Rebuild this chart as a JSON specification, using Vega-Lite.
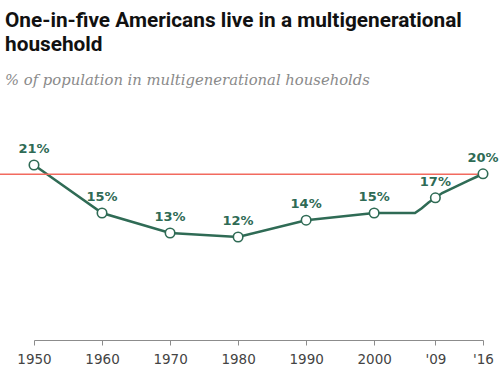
{
  "$schema": "https://vega.github.io/schema/vega-lite/v6.json",
  "width": 449,
  "height": 200,
  "autosize": {"type": "none"},
  "padding": {"left": 34, "right": 21, "top": 133, "bottom": 46},
  "background": "white",
  "config": {"view": {"stroke": null}},
  "title": {
    "text": ["One-in-five Americans live in a multigenerational", "household"],
    "subtitle": "% of population in multigenerational households",
    "anchor": "start",
    "frame": "group",
    "dx": -29,
    "offset": 44,
    "font": "Roboto",
    "fontSize": 20.8,
    "fontWeight": "bold",
    "lineHeight": 24,
    "color": "#111111",
    "subtitleFont": "DejaVu Serif",
    "subtitleFontStyle": "italic",
    "subtitleFontSize": 14.8,
    "subtitleColor": "#8a8a8a",
    "subtitlePadding": 17
  },
  "datasets": {
    "series": [
      {"year": 1950, "pct": 21.0, "label": "21%"},
      {"year": 1960, "pct": 15.0, "label": "15%"},
      {"year": 1970, "pct": 12.5, "label": "13%"},
      {"year": 1980, "pct": 12.0, "label": "12%"},
      {"year": 1990, "pct": 14.1, "label": "14%"},
      {"year": 2000, "pct": 15.0, "label": "15%"},
      {"year": 2006, "pct": 15.0, "label": ""},
      {"year": 2007, "pct": 15.6, "label": ""},
      {"year": 2008, "pct": 16.3, "label": ""},
      {"year": 2009, "pct": 16.9, "label": "17%"},
      {"year": 2010, "pct": 17.5, "label": ""},
      {"year": 2011, "pct": 17.9, "label": ""},
      {"year": 2012, "pct": 18.3, "label": ""},
      {"year": 2013, "pct": 18.7, "label": ""},
      {"year": 2014, "pct": 19.1, "label": ""},
      {"year": 2015, "pct": 19.5, "label": ""},
      {"year": 2016, "pct": 19.9, "label": "20%"}
    ],
    "refline": [
      {"start": 1945, "end": 2016, "pct": 19.85}
    ]
  },
  "layer": [
    {
      "data": {"name": "series"},
      "mark": {"type": "line", "color": "#2f6b55", "strokeWidth": 2.5, "interpolate": "linear"},
      "encoding": {
        "x": {
          "field": "year", "type": "quantitative",
          "scale": {"domain": [1950, 2016], "nice": false, "zero": false},
          "axis": {
            "values": [1950, 1960, 1970, 1980, 1990, 2000, 2009, 2016],
            "labelExpr": "datum.value >= 2009 ? \"'\" + substring(toString(datum.value), 2) : toString(datum.value)",
            "title": null,
            "grid": false,
            "offset": 7,
            "domainColor": "#8c8c8c",
            "tickColor": "#8c8c8c",
            "tickSize": 5,
            "labelFont": "DejaVu Sans",
            "labelFontSize": 13.5,
            "labelColor": "#444444",
            "labelPadding": 7,
            "labelFlush": false
          }
        },
        "y": {
          "field": "pct", "type": "quantitative",
          "scale": {"domain": [0, 25], "nice": false},
          "axis": null
        }
      }
    },
    {
      "data": {"name": "refline"},
      "mark": {"type": "rule", "color": "#f26a5f", "strokeWidth": 1.5},
      "encoding": {
        "x": {"field": "start", "type": "quantitative"},
        "x2": {"field": "end"},
        "y": {"field": "pct", "type": "quantitative"}
      }
    },
    {
      "data": {"name": "series"},
      "transform": [{"filter": "datum.label != ''"}],
      "mark": {"type": "point", "shape": "circle", "filled": true, "fill": "white", "stroke": "#2f6b55", "strokeWidth": 1.6, "size": 90, "opacity": 1},
      "encoding": {
        "x": {"field": "year", "type": "quantitative"},
        "y": {"field": "pct", "type": "quantitative"}
      }
    },
    {
      "data": {"name": "series"},
      "transform": [{"filter": "datum.label != ''"}],
      "mark": {"type": "text", "font": "DejaVu Sans", "fontWeight": "bold", "fontSize": 13, "color": "#2f6b55", "dy": -16, "baseline": "middle"},
      "encoding": {
        "x": {"field": "year", "type": "quantitative"},
        "y": {"field": "pct", "type": "quantitative"},
        "text": {"field": "label"}
      }
    }
  ]
}
